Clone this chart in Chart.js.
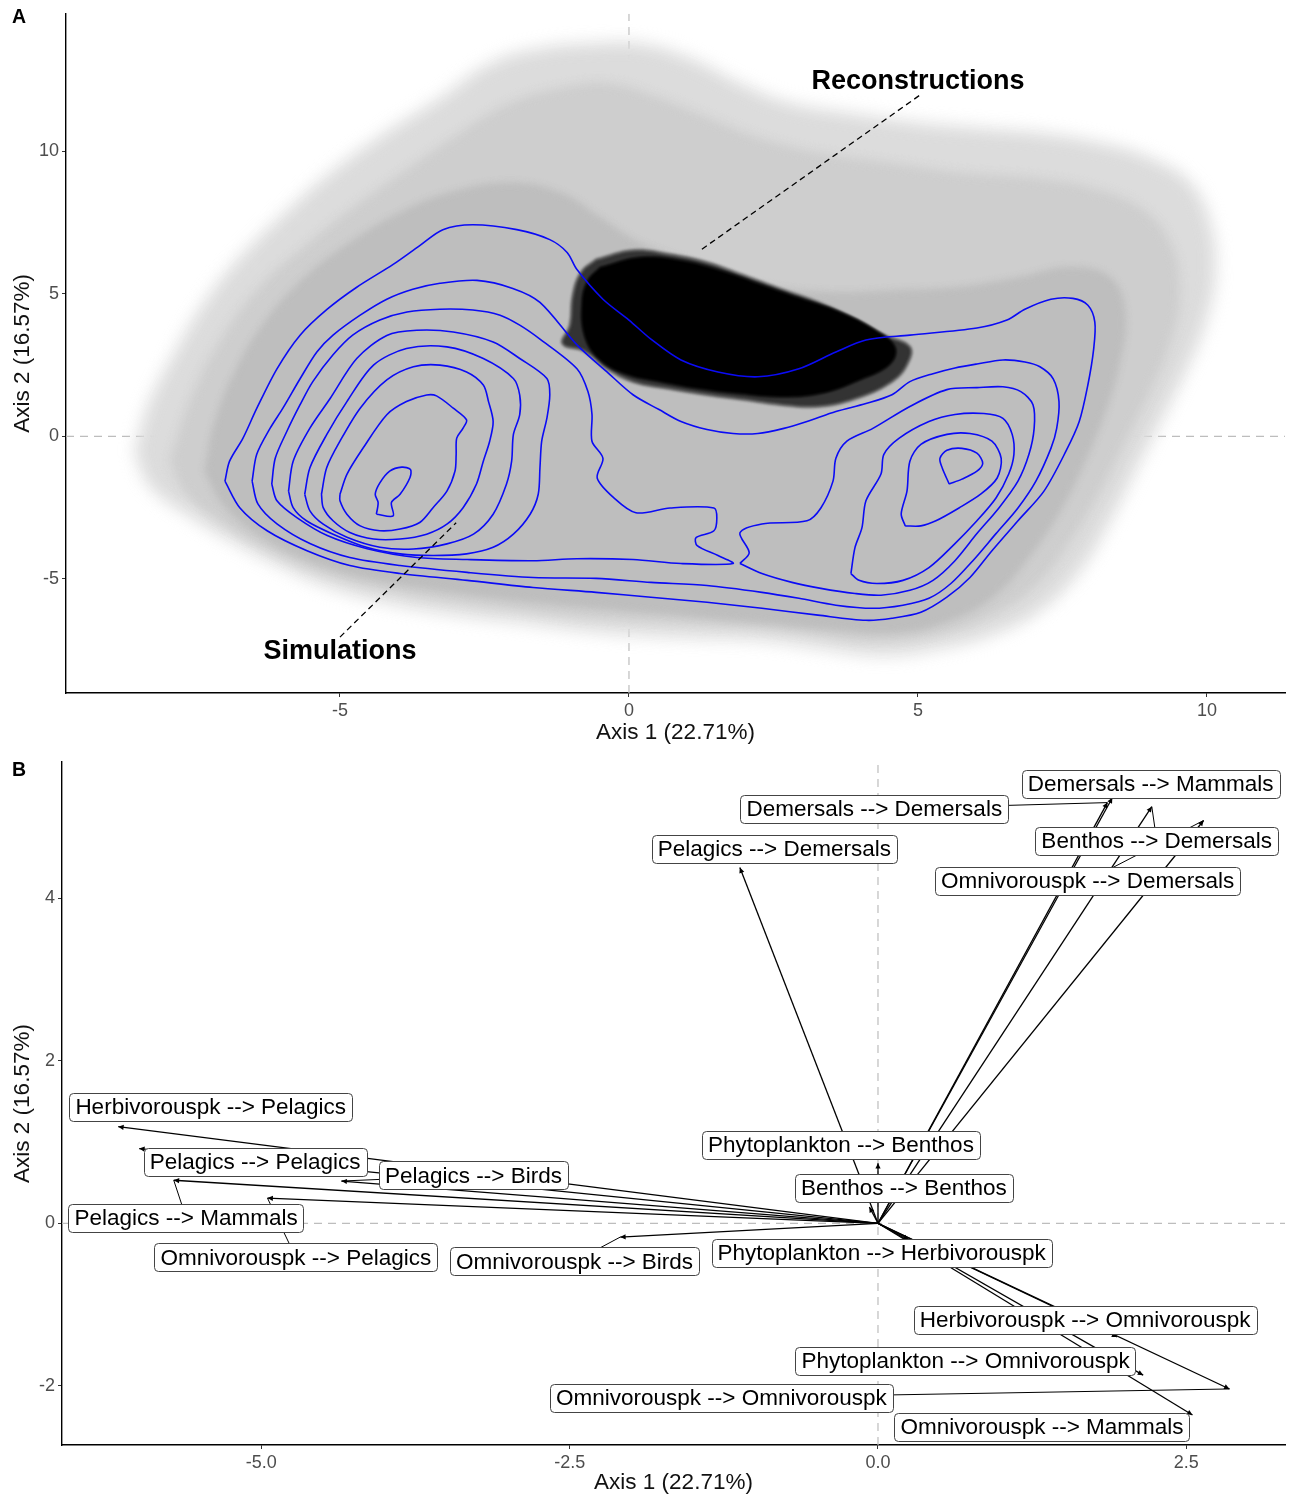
<!DOCTYPE html>
<html>
<head>
<meta charset="utf-8">
<script src="https://cdn.jsdelivr.net/npm/chart.js@4.4.1/dist/chart.umd.min.js"></script>
<style>
  html, body { margin: 0; padding: 0; background: #fff; }
  canvas { display: block; }
</style>
</head>
<body>
<canvas id="panelA" width="1292" height="748"></canvas>
<canvas id="panelB" width="1292" height="748"></canvas>
<script>
// ---------- panel A: simulated vs reconstructed food webs ----------
const ticksAx = [-5, 0, 5, 10];
const ticksAy = [-5, 0, 5, 10];

// extent of the simulation cloud (sparse edge, mid density, dense core)
const cloudOuter = [[-8.55,-0.52],[-8.29,1.22],[-7.85,2.96],[-7.34,4.70],[-6.73,6.27],[-6.04,7.67],[-5.17,9.23],[-4.22,10.63],[-3.27,11.85],[-2.40,13.07],[-1.54,13.59],[-0.67,13.76],[0.19,13.76],[1.06,13.24],[1.92,12.37],[2.79,11.67],[3.82,11.32],[5.03,10.98],[6.07,10.80],[7.11,10.63],[8.15,10.28],[9.01,9.76],[9.71,8.89],[10.05,7.49],[10.14,5.75],[9.97,4.01],[9.62,2.26],[9.19,0.52],[8.75,-1.22],[8.32,-2.96],[7.80,-4.70],[7.11,-6.10],[6.25,-6.97],[5.21,-7.49],[4.34,-7.67],[3.30,-7.42],[2.27,-7.14],[1.23,-7.07],[0.19,-6.97],[-0.85,-6.79],[-1.89,-6.52],[-2.92,-6.27],[-3.96,-5.92],[-5.00,-5.40],[-5.87,-4.70],[-6.73,-3.83],[-7.60,-2.79],[-8.29,-1.74],[-8.55,-0.52]];
const cloudMid = [[-7.94,-0.87],[-7.60,1.22],[-7.08,3.31],[-6.38,5.23],[-5.52,6.79],[-4.65,8.19],[-3.79,9.41],[-2.92,10.63],[-2.06,11.67],[-1.19,12.20],[-0.33,12.37],[0.54,11.85],[1.40,11.15],[2.27,10.45],[3.30,9.93],[4.52,9.58],[5.73,9.23],[6.94,9.06],[7.98,8.71],[8.84,8.01],[9.36,6.79],[9.53,5.05],[9.36,3.31],[9.01,1.57],[8.58,-0.17],[8.15,-1.92],[7.63,-3.66],[7.02,-5.23],[6.25,-6.27],[5.21,-6.97],[4.17,-7.14],[2.96,-6.86],[1.57,-6.62],[0.19,-6.45],[-1.19,-6.24],[-2.58,-5.89],[-3.96,-5.47],[-5.17,-4.88],[-6.21,-4.01],[-7.08,-2.96],[-7.68,-1.92],[-7.94,-0.87]];
const cloudCore = [[-7.34,-1.22],[-7.16,0.52],[-6.82,2.26],[-6.30,4.01],[-5.61,5.57],[-4.83,6.79],[-3.96,7.84],[-3.10,8.54],[-2.06,8.89],[-1.19,8.54],[-0.50,7.67],[0.19,6.79],[1.23,6.03],[2.27,5.33],[3.48,5.05],[4.69,5.12],[5.73,5.23],[6.76,5.57],[7.63,5.92],[8.32,5.57],[8.58,4.36],[8.49,2.61],[8.24,0.87],[7.89,-0.87],[7.46,-2.61],[6.94,-4.18],[6.33,-5.57],[5.55,-6.45],[4.69,-6.86],[3.65,-6.79],[2.27,-6.52],[0.88,-6.27],[-0.50,-6.03],[-1.89,-5.75],[-3.27,-5.40],[-4.48,-4.98],[-5.52,-4.36],[-6.38,-3.48],[-7.00,-2.44],[-7.34,-1.22]];

// reconstructions cloud: scattered edge and solid body
const reconFringe = [[-0.57,6.20],[0.07,6.52],[0.71,6.38],[1.35,6.10],[1.99,5.64],[2.63,5.16],[3.27,4.70],[3.91,4.11],[4.41,3.55],[4.86,3.14],[4.81,2.51],[4.55,1.92],[3.91,1.32],[3.27,1.05],[2.63,1.11],[1.99,1.29],[1.35,1.46],[0.71,1.67],[0.07,1.92],[-0.38,2.37],[-0.78,3.00],[-1.15,3.25],[-1.02,3.90],[-0.97,4.95],[-0.83,5.75],[-0.57,6.20]];
const reconCore = [[-0.50,5.92],[0.19,6.27],[0.88,6.17],[1.57,5.82],[2.27,5.33],[2.96,4.84],[3.65,4.36],[4.26,3.73],[4.60,3.14],[4.52,2.54],[4.00,1.99],[3.30,1.50],[2.61,1.39],[1.92,1.50],[1.23,1.67],[0.54,1.92],[-0.07,2.20],[-0.50,2.68],[-0.76,3.48],[-0.81,4.70],[-0.71,5.47],[-0.50,5.92]];

// 2-D density contours of the simulations
const contour1 = [[-6.99,-1.57],[-6.91,-0.87],[-6.68,-0.07],[-6.44,0.98],[-6.09,2.37],[-5.69,3.55],[-5.22,4.46],[-4.71,5.23],[-4.08,6.03],[-3.62,6.69],[-3.22,7.25],[-2.70,7.42],[-1.94,7.25],[-1.37,6.90],[-1.07,6.45],[-0.90,5.85],[-0.45,4.81],[0.00,4.08],[0.38,3.41],[0.90,2.68],[1.54,2.26],[2.23,2.09],[2.94,2.37],[3.58,2.96],[4.10,3.38],[4.86,3.55],[6.02,3.80],[6.54,4.08],[6.85,4.46],[7.30,4.81],[7.68,4.84],[7.94,4.60],[8.06,4.01],[8.04,3.07],[7.94,1.81],[7.79,0.52],[7.56,-0.52],[7.18,-1.92],[6.73,-2.96],[6.28,-4.01],[5.90,-4.95],[5.50,-5.64],[5.05,-6.17],[4.55,-6.38],[4.10,-6.45],[3.27,-6.27],[2.30,-6.03],[1.35,-5.82],[0.38,-5.64],[-0.57,-5.47],[-1.66,-5.30],[-2.80,-5.05],[-3.96,-4.81],[-4.83,-4.53],[-5.57,-4.01],[-6.26,-3.31],[-6.73,-2.51],[-6.99,-1.57]];
const contour2 = [[-6.52,-1.57],[-6.44,-0.63],[-6.21,0.28],[-5.99,0.98],[-5.69,2.02],[-5.40,2.96],[-5.12,3.55],[-4.65,4.25],[-4.19,4.81],[-3.74,5.16],[-3.27,5.37],[-2.63,5.47],[-2.01,5.19],[-1.54,4.70],[-0.90,3.21],[-0.38,2.26],[0.07,1.46],[0.52,0.94],[0.90,0.52],[1.35,0.24],[1.80,0.10],[2.23,0.10],[2.68,0.28],[3.08,0.52],[3.58,0.87],[4.10,1.15],[4.55,1.46],[4.86,1.92],[5.26,2.20],[5.64,2.40],[6.02,2.54],[6.47,2.68],[6.85,2.61],[7.11,2.44],[7.34,2.02],[7.44,1.22],[7.40,0.28],[7.30,-0.42],[7.04,-1.57],[6.73,-2.51],[6.35,-3.41],[5.95,-4.36],[5.57,-5.16],[5.19,-5.68],[4.74,-5.92],[4.22,-6.03],[3.58,-5.92],[2.94,-5.68],[2.30,-5.47],[1.35,-5.23],[0.38,-5.12],[-0.57,-4.98],[-1.66,-4.95],[-2.80,-4.77],[-3.96,-4.53],[-4.83,-4.25],[-5.52,-3.76],[-6.09,-3.07],[-6.42,-2.37],[-6.52,-1.57]];
const contour3L = [[-6.18,-1.67],[-6.12,-0.77],[-5.92,0.17],[-5.69,1.11],[-5.47,1.92],[-5.12,2.86],[-4.78,3.55],[-4.31,4.08],[-3.84,4.36],[-3.27,4.46],[-2.70,4.43],[-2.23,4.25],[-1.89,3.90],[-1.54,3.41],[-0.90,2.37],[-0.71,1.57],[-0.64,0.77],[-0.64,-0.17],[-0.45,-0.77],[-0.55,-1.46],[-0.26,-2.16],[0.12,-2.68],[0.71,-2.51],[1.47,-2.51],[1.52,-2.86],[1.47,-3.31],[1.16,-3.55],[1.18,-3.83],[1.54,-4.18],[1.80,-4.46],[0.90,-4.46],[0.07,-4.32],[-0.90,-4.29],[-1.66,-4.36],[-2.80,-4.32],[-3.67,-4.25],[-4.53,-3.94],[-5.22,-3.48],[-5.74,-2.86],[-6.09,-2.26],[-6.18,-1.67]];
const contour3R = [[1.92,-4.46],[2.08,-4.08],[1.92,-3.38],[2.30,-3.07],[3.08,-2.96],[3.32,-2.51],[3.53,-1.57],[3.58,-0.77],[3.77,-0.17],[4.22,0.28],[4.86,1.05],[5.50,1.64],[6.02,1.71],[6.47,1.74],[6.78,1.57],[6.99,1.11],[7.01,0.28],[6.92,-0.63],[6.73,-1.57],[6.40,-2.51],[6.02,-3.41],[5.64,-4.36],[5.26,-5.05],[4.86,-5.40],[4.36,-5.57],[3.91,-5.51],[3.32,-5.33],[2.82,-5.12],[2.30,-4.81],[1.92,-4.46]];
const contour4L = [[-5.89,-1.92],[-5.81,-0.87],[-5.52,0.29],[-5.17,1.33],[-4.71,2.73],[-4.19,3.54],[-3.67,3.72],[-3.04,3.66],[-2.35,3.31],[-1.89,2.73],[-1.42,2.03],[-1.37,1.45],[-1.42,0.64],[-1.51,-0.17],[-1.54,-1.10],[-1.57,-2.03],[-1.71,-2.73],[-2.00,-3.43],[-2.35,-3.89],[-2.81,-4.12],[-3.39,-4.18],[-3.96,-4.12],[-4.54,-3.89],[-5.12,-3.43],[-5.58,-2.96],[-5.81,-2.50],[-5.89,-1.92]];
const contour5L = [[-5.61,-2.03],[-5.52,-1.10],[-5.23,0.06],[-4.88,1.22],[-4.42,2.50],[-3.85,3.08],[-3.15,3.14],[-2.52,2.73],[-2.00,2.03],[-1.89,1.45],[-1.89,0.76],[-2.00,0.06],[-2.03,-0.87],[-2.12,-1.68],[-2.35,-2.73],[-2.69,-3.43],[-3.15,-3.77],[-3.73,-3.95],[-4.31,-3.89],[-4.88,-3.54],[-5.29,-3.08],[-5.52,-2.61],[-5.61,-2.03]];
const contour6L = [[-5.32,-2.03],[-5.23,-1.10],[-5.00,-0.17],[-4.65,0.99],[-4.19,1.98],[-3.73,2.44],[-3.27,2.50],[-2.81,2.26],[-2.52,1.80],[-2.43,1.22],[-2.35,0.52],[-2.41,-0.17],[-2.52,-0.87],[-2.64,-1.68],[-2.87,-2.50],[-3.15,-3.08],[-3.50,-3.43],[-3.96,-3.60],[-4.42,-3.60],[-4.83,-3.37],[-5.12,-2.96],[-5.29,-2.50],[-5.32,-2.03]];
const contour7L = [[-5.00,-2.03],[-4.88,-1.33],[-4.60,-0.41],[-4.19,0.76],[-3.85,1.22],[-3.50,1.45],[-3.33,1.42],[-3.04,0.99],[-2.81,0.58],[-2.87,0.29],[-2.98,-0.06],[-2.99,-0.64],[-3.01,-1.22],[-3.15,-1.92],[-3.39,-2.50],[-3.62,-3.02],[-3.96,-3.25],[-4.31,-3.31],[-4.65,-3.14],[-4.88,-2.73],[-5.00,-2.26],[-5.00,-2.03]];
const contour8L = [[-4.37,-2.73],[-4.08,-2.79],[-4.11,-2.32],[-3.96,-2.03],[-3.79,-1.45],[-3.78,-1.16],[-3.93,-1.08],[-4.14,-1.22],[-4.31,-1.63],[-4.39,-2.03],[-4.34,-2.32],[-4.37,-2.73]];
const contour4R = [[3.84,-4.81],[3.91,-3.90],[4.03,-3.21],[4.10,-2.26],[4.36,-1.32],[4.41,-0.63],[4.67,-0.07],[5.19,0.52],[5.64,0.77],[6.14,0.80],[6.47,0.63],[6.63,0.07],[6.66,-0.63],[6.57,-1.32],[6.35,-2.16],[6.02,-2.96],[5.64,-3.76],[5.19,-4.60],[4.74,-5.05],[4.29,-5.16],[3.98,-5.05],[3.84,-4.81]];
const contour5R = [[4.78,-3.14],[4.71,-2.72],[4.81,-1.92],[4.86,-0.87],[5.05,-0.28],[5.50,0.07],[5.90,0.10],[6.28,-0.17],[6.44,-0.77],[6.37,-1.46],[6.09,-2.02],[5.71,-2.51],[5.31,-2.96],[5.05,-3.14],[4.78,-3.14]];
const contour6R = [[5.54,-1.67],[5.42,-1.11],[5.38,-0.77],[5.50,-0.49],[5.76,-0.42],[6.02,-0.59],[6.12,-0.94],[6.02,-1.22],[5.76,-1.50],[5.54,-1.67]];

// annotations
const noteText = ['Reconstructions', 'Simulations'];
const noteX = [5.0, -5.0];
const noteY = [12.44, -7.56];
const noteLineStart = [[5.02, 11.95], [-5.0, -7.04]];
const noteLineEnd = [[1.23, 6.52], [-2.99, -3.03]];

// ---------- panel B: trophic flows on the first two axes ----------
const ticksBx = [-5, -2.5, 0, 2.5];
const ticksBy = [-2, 0, 2, 4];
const flowNames = [
  'Herbivorouspk --> Pelagics', 'Pelagics --> Pelagics', 'Pelagics --> Birds', 'Pelagics --> Mammals',
  'Omnivorouspk --> Pelagics', 'Omnivorouspk --> Birds', 'Phytoplankton --> Benthos', 'Benthos --> Benthos',
  'Phytoplankton --> Herbivorouspk', 'Herbivorouspk --> Omnivorouspk', 'Phytoplankton --> Omnivorouspk',
  'Omnivorouspk --> Omnivorouspk', 'Omnivorouspk --> Mammals', 'Pelagics --> Demersals',
  'Demersals --> Demersals', 'Demersals --> Mammals', 'Benthos --> Demersals', 'Omnivorouspk --> Demersals'
];
const flowX = [-6.16, -5.99, -4.35, -5.71, -4.95, -2.09, 0.00, -0.07, 0.25, 1.94, 2.15, 2.85, 2.55, -1.12, 1.86, 1.90, 2.22, 2.64];
const flowY = [1.19, 0.92, 0.52, 0.53, 0.31, -0.17, 0.74, 0.20, -0.20, -1.40, -1.87, -2.04, -2.36, 4.38, 5.18, 5.24, 5.13, 4.96];
const labelX = [-5.41, -5.05, -3.28, -5.61, -4.72, -2.46, -0.30, 0.21, 0.03, 1.68, 0.71, -1.27, 1.33, -0.84, -0.03, 2.21, 2.26, 1.70];
const labelY = [1.43, 0.76, 0.59, 0.07, -0.42, -0.47, 0.97, 0.44, -0.36, -1.19, -1.69, -2.15, -2.51, 4.61, 5.10, 5.41, 4.71, 4.22];

// ---------- shared helpers ----------
const FONT = "'Liberation Sans', Arial, sans-serif";
Chart.defaults.font.family = FONT;
const pts = arr => arr.map(([x, y]) => ({ x, y }));

function axis(min, max, ticks, title, size, fmt, titlePad) {
  return {
    type: 'linear', min, max,
    afterBuildTicks: s => { s.ticks = ticks.map(v => ({ value: v })); },
    afterFit: s => { if (s.isHorizontal()) s.height = size; else s.width = size; },
    grid: { drawOnChartArea: false, drawTicks: true, tickLength: 4, color: '#333', lineWidth: 1 },
    border: { display: true, color: '#000', width: 1.4 },
    ticks: { color: '#4d4d4d', font: { size: 18 }, padding: 3, callback: fmt },
    title: { display: true, text: title, color: '#111', font: { size: 22.5, lineHeight: 1.2 }, padding: titlePad }
  };
}

function polygon(data, color, order) {
  return { data: pts(data), showLine: true, fill: 'shape', backgroundColor: color, borderColor: color,
           borderWidth: 1, tension: 0.4, pointRadius: 0, order };
}
function contour(data) {
  return { data: pts(data), showLine: true, fill: false, borderColor: '#0b0bf5', borderWidth: 1.6,
           tension: 0.3, pointRadius: 0, order: 40 };
}
function dashed(a, b, color, dash, order, width) {
  return { data: pts([a, b]), showLine: true, fill: false, borderColor: color, borderDash: dash,
           borderWidth: width, pointRadius: 0, order };
}
function letter(ch, x, y) {
  return { id: 'letter' + ch, afterDraw(chart) {
    const c = chart.ctx; c.save();
    c.font = 'bold 19.5px ' + FONT; c.fillStyle = '#000'; c.textBaseline = 'middle';
    c.fillText(ch, x, y); c.restore();
  } };
}

const baseOptions = {
  responsive: false, animation: false, devicePixelRatio: 1,
  plugins: { legend: { display: false }, tooltip: { enabled: false } },
  elements: { point: { radius: 0 } }
};

// ---------- draw panel A ----------
const A = { xmin: -9.74, xmax: 11.35, ymin: -9.0, ymax: 14.82 };
const notesPlugin = {
  id: 'notes',
  afterDatasetsDraw(chart) {
    const c = chart.ctx, sx = chart.scales.x, sy = chart.scales.y;
    c.save();
    c.font = 'bold 27px ' + FONT; c.fillStyle = '#000';
    c.textAlign = 'center'; c.textBaseline = 'middle';
    noteText.forEach((t, i) => c.fillText(t, sx.getPixelForValue(noteX[i]), sy.getPixelForValue(noteY[i])));
    c.restore();
  }
};
// the point clouds have stippled, diffuse borders: soften each fill layer
// (key = dataset index just drawn, value = filter for the next one)
const softAfter = { 1: 'blur(8px)', 2: 'blur(5px)', 3: 'blur(3px)', 4: 'blur(1.5px)', 5: 'blur(0.8px)', 6: 'none' };
const softClouds = {
  id: 'softClouds',
  afterDatasetDraw(chart, args) {
    if (args.index in softAfter) chart.ctx.filter = softAfter[args.index];
  },
  afterDatasetsDraw(chart) { chart.ctx.filter = 'none'; }
};

new Chart(document.getElementById('panelA'), {
  type: 'scatter',
  data: { datasets: [
    dashed([A.xmin, 0], [A.xmax, 0], '#bdbdbd', [8, 6], 101, 1.2),
    dashed([0, A.ymin], [0, A.ymax], '#bdbdbd', [8, 6], 100, 1.2),
    polygon(cloudOuter, '#dcdcdc', 90),
    polygon(cloudMid, '#cecece', 80),
    polygon(cloudCore, '#bebebe', 70),
    polygon(reconFringe, '#333333', 60),
    polygon(reconCore, '#000000', 50),
    contour(contour1), contour(contour2), contour(contour3L), contour(contour3R),
    contour(contour4L), contour(contour5L), contour(contour6L), contour(contour7L), contour(contour8L),
    contour(contour4R), contour(contour5R), contour(contour6R),
    dashed(noteLineStart[0], noteLineEnd[0], '#000', [6, 4], 30, 1.3),
    dashed(noteLineStart[1], noteLineEnd[1], '#000', [6, 4], 30, 1.3)
  ] },
  options: Object.assign({}, baseOptions, {
    layout: { padding: { left: 0, right: 7, top: 10, bottom: 0 } },
    scales: {
      x: axis(A.xmin, A.xmax, ticksAx, 'Axis 1 (22.71%)', 55, v => String(v), { top: 0, bottom: 2 }),
      y: axis(A.ymin, A.ymax, ticksAy, 'Axis 2 (16.57%)', 66, v => String(v), { top: 9, bottom: 0 })
    }
  }),
  plugins: [softClouds, notesPlugin, letter('A', 12, 18)]
});

// ---------- draw panel B ----------
const B = { xmin: -6.616, xmax: 3.30, ymin: -2.73, ymax: 5.68 };
const flowLabels = {
  id: 'flowLabels',
  afterDatasetsDraw(chart) {
    const c = chart.ctx, sx = chart.scales.x, sy = chart.scales.y;
    const ox = sx.getPixelForValue(0), oy = sy.getPixelForValue(0);
    c.save();
    // arrow heads
    c.strokeStyle = '#000'; c.fillStyle = '#000'; c.lineWidth = 1.2;
    flowX.forEach((fx, i) => {
      const tx = sx.getPixelForValue(fx), ty = sy.getPixelForValue(flowY[i]);
      const ang = Math.atan2(ty - oy, tx - ox), len = 6;
      c.beginPath();
      c.moveTo(tx, ty);
      c.lineTo(tx - len * Math.cos(ang - 0.45), ty - len * Math.sin(ang - 0.45));
      c.lineTo(tx - len * Math.cos(ang + 0.45), ty - len * Math.sin(ang + 0.45));
      c.closePath(); c.fill();
    });
    // label boxes with leader segments
    c.font = '22.5px ' + FONT;
    const boxes = flowNames.map((name, i) => {
      const w = c.measureText(name).width + 12, h = 28;
      const cx = sx.getPixelForValue(labelX[i]), cy = sy.getPixelForValue(labelY[i]);
      return { name, w, h, cx, cy, tx: sx.getPixelForValue(flowX[i]), ty: sy.getPixelForValue(flowY[i]) };
    });
    c.lineWidth = 1;
    boxes.forEach(b => {
      const dx = Math.max(Math.abs(b.tx - b.cx) - b.w / 2, 0);
      const dy = Math.max(Math.abs(b.ty - b.cy) - b.h / 2, 0);
      if (Math.hypot(dx, dy) > 9) {
        c.beginPath(); c.moveTo(b.cx, b.cy); c.lineTo(b.tx, b.ty); c.stroke();
      }
    });
    c.textAlign = 'center'; c.textBaseline = 'middle';
    boxes.forEach(b => {
      c.beginPath();
      c.roundRect(Math.round(b.cx - b.w / 2) + 0.5, Math.round(b.cy - b.h / 2) + 0.5, Math.round(b.w), b.h, 4);
      c.fillStyle = '#fff'; c.fill();
      c.strokeStyle = '#444'; c.stroke();
      c.fillStyle = '#000';
      c.fillText(b.name, b.cx, b.cy + 1);
    });
    c.restore();
  }
};

new Chart(document.getElementById('panelB'), {
  type: 'scatter',
  data: { datasets: [
    dashed([B.xmin, 0], [B.xmax, 0], '#bdbdbd', [8, 6], 101, 1.2),
    dashed([0, B.ymin], [0, B.ymax], '#bdbdbd', [8, 6], 100, 1.2),
    ...flowX.map((fx, i) => ({ data: [{ x: 0, y: 0 }, { x: fx, y: flowY[i] }], showLine: true, fill: false,
      borderColor: '#000', borderWidth: 1.3, pointRadius: 0, order: 10 }))
  ] },
  options: Object.assign({}, baseOptions, {
    layout: { padding: { left: 0, right: 7, top: 14, bottom: 0 } },
    scales: {
      x: axis(B.xmin, B.xmax, ticksBx, 'Axis 1 (22.71%)', 51, v => v.toFixed(1), { top: 0, bottom: 0 }),
      y: axis(B.ymin, B.ymax, ticksBy, 'Axis 2 (16.57%)', 62, v => String(v), { top: 9, bottom: 0 })
    }
  }),
  plugins: [flowLabels, letter('B', 12, 23)]
});
</script>
</body>
</html>
